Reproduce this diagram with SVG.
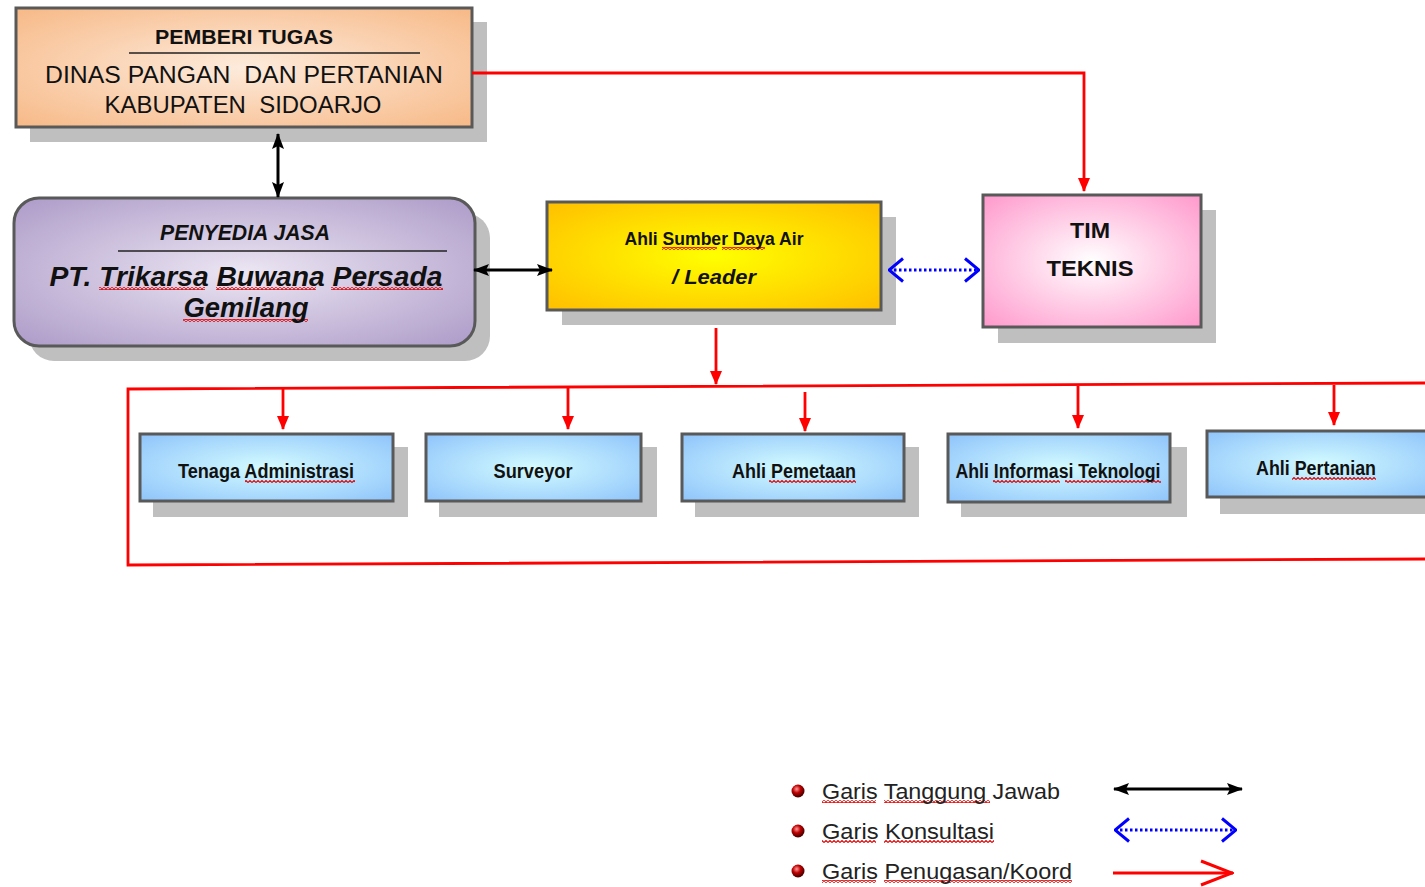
<svg xmlns="http://www.w3.org/2000/svg" width="1425" height="887" viewBox="0 0 1425 887">
<defs>
<style>
.sh{fill:#bfbfbf}
.bx{stroke:#595959;stroke-width:3}
.t{font-family:"Liberation Sans",Arial,sans-serif;fill:#111;text-anchor:middle}
.b{font-weight:bold}
.i{font-style:italic}
.red{stroke:#ff0000;stroke-width:2.8;fill:none}
.blk{stroke:#000;stroke-width:3;fill:none}
.blu{stroke:#0000ff;stroke-width:3;fill:none;stroke-dasharray:2.5 2.5}
.wv{fill:url(#wavy)}
.lg{font-family:"Liberation Sans",Arial,sans-serif;font-size:22px;fill:#222}
</style>
<pattern id="wavy" width="4" height="3" patternUnits="userSpaceOnUse"><path d="M0,2.5 L2,0.5 L4,2.5" fill="none" stroke="#e00000" stroke-width="1.1"/></pattern>
<radialGradient id="gPeach" cx="50%" cy="50%" r="70%"><stop offset="0" stop-color="#fdebdc"/><stop offset="1" stop-color="#f7b987"/></radialGradient>
<radialGradient id="gPurp" cx="50%" cy="50%" r="70%"><stop offset="0" stop-color="#ece6f3"/><stop offset="1" stop-color="#ad9bc8"/></radialGradient>
<radialGradient id="gYel" cx="50%" cy="50%" r="70%"><stop offset="0" stop-color="#ffff00"/><stop offset="1" stop-color="#ffbf00"/></radialGradient>
<radialGradient id="gPink" cx="50%" cy="50%" r="70%"><stop offset="0" stop-color="#ffffff"/><stop offset="1" stop-color="#ff99cc"/></radialGradient>
<radialGradient id="gBlue" cx="50%" cy="50%" r="70%"><stop offset="0" stop-color="#d3fbff"/><stop offset="1" stop-color="#8fc4fb"/></radialGradient>
<radialGradient id="gBall" cx="40%" cy="35%" r="60%"><stop offset="0" stop-color="#ff9a9a"/><stop offset="0.5" stop-color="#c00000"/><stop offset="1" stop-color="#500000"/></radialGradient>
<marker id="rT" viewBox="0 0 14 14" refX="13" refY="7" markerWidth="14" markerHeight="14" markerUnits="userSpaceOnUse" orient="auto"><path d="M0,1 L14,7 L0,13 z" fill="#ff0000"/></marker>
<marker id="kT" viewBox="0 0 16 14" refX="15" refY="7" markerWidth="16" markerHeight="14" markerUnits="userSpaceOnUse" orient="auto-start-reverse"><path d="M0,1 L16,7 L0,13 L3,7 z" fill="#000"/></marker>
<marker id="bC" viewBox="0 0 16 26" refX="15" refY="13" markerWidth="16" markerHeight="26" markerUnits="userSpaceOnUse" orient="auto-start-reverse"><path d="M1,1.5 L15,13 L1,24.5" fill="none" stroke="#0000ff" stroke-width="3"/></marker>
<marker id="rC" viewBox="0 0 34 28" refX="33" refY="14" markerWidth="34" markerHeight="28" markerUnits="userSpaceOnUse" orient="auto"><path d="M1,2 L32,14 L1,26" fill="none" stroke="#ff0000" stroke-width="3"/></marker>
</defs>
<rect width="1425" height="887" fill="#fff"/>

<g id="pemberi-tugas">
<rect class="sh" x="30" y="22" width="457" height="120"/>
<rect class="bx" x="16" y="8" width="456" height="119" fill="url(#gPeach)"/>
<text class="t b" x="244" y="44" font-size="21" textLength="178" lengthAdjust="spacingAndGlyphs">PEMBERI TUGAS</text>
<line x1="129" y1="53" x2="420" y2="53" stroke="#222" stroke-width="1.5"/>
<text class="t" x="244" y="83" font-size="23" textLength="398" lengthAdjust="spacingAndGlyphs" xml:space="preserve">DINAS PANGAN  DAN PERTANIAN</text>
<text class="t" x="243" y="113" font-size="23" textLength="277" lengthAdjust="spacingAndGlyphs" xml:space="preserve">KABUPATEN  SIDOARJO</text>
</g>

<g id="penyedia-jasa">
<rect class="sh" x="29" y="213" width="461" height="148" rx="25"/>
<rect class="bx" x="14" y="198" width="461" height="148" rx="25" fill="url(#gPurp)"/>
<text class="t b i" x="245" y="240" font-size="22" textLength="170" lengthAdjust="spacingAndGlyphs">PENYEDIA JASA</text>
<line x1="118" y1="251" x2="447" y2="251" stroke="#222" stroke-width="1.5"/>
<rect class="wv" x="99" y="287" width="106" height="3"/>
<rect class="wv" x="216" y="287" width="100" height="3"/>
<rect class="wv" x="331" y="287" width="112" height="3"/>
<rect class="wv" x="183" y="319" width="125" height="3"/>
<text class="t b i" x="246" y="286" font-size="27" textLength="393" lengthAdjust="spacingAndGlyphs">PT. Trikarsa Buwana Persada</text>
<text class="t b i" x="246" y="317" font-size="27" textLength="125" lengthAdjust="spacingAndGlyphs">Gemilang</text>
</g>

<g id="ahli-sda">
<rect class="sh" x="562" y="217" width="334" height="108"/>
<rect class="bx" x="547" y="202" width="334" height="108" fill="url(#gYel)"/>
<rect class="wv" x="662" y="247" width="55" height="3"/>
<rect class="wv" x="722" y="247" width="43" height="3"/>
<text class="t b" x="714" y="245" font-size="18" textLength="179" lengthAdjust="spacingAndGlyphs">Ahli Sumber Daya Air</text>
<text class="t b i" x="714" y="284" font-size="20" textLength="84" lengthAdjust="spacingAndGlyphs">/ Leader</text>
</g>

<g id="tim-teknis">
<rect class="sh" x="998" y="210" width="218" height="133"/>
<rect class="bx" x="983" y="195" width="218" height="132" fill="url(#gPink)"/>
<text class="t b" x="1090" y="238" font-size="22" textLength="40" lengthAdjust="spacingAndGlyphs">TIM</text>
<text class="t b" x="1090" y="276" font-size="22" textLength="87" lengthAdjust="spacingAndGlyphs">TEKNIS</text>
</g>

<g id="tenaga-administrasi">
<rect class="sh" x="153" y="447" width="255" height="70"/>
<rect class="bx" x="140" y="434" width="253" height="67" fill="url(#gBlue)"/>
<rect class="wv" x="245" y="480" width="110" height="3"/>
<text class="t b" x="266" y="478" font-size="20" textLength="176" lengthAdjust="spacingAndGlyphs">Tenaga Administrasi</text>
</g>

<g id="surveyor">
<rect class="sh" x="439" y="447" width="218" height="70"/>
<rect class="bx" x="426" y="434" width="215" height="67" fill="url(#gBlue)"/>
<text class="t b" x="533" y="478" font-size="20" textLength="79" lengthAdjust="spacingAndGlyphs">Surveyor</text>
</g>

<g id="ahli-pemetaan">
<rect class="sh" x="695" y="447" width="224" height="70"/>
<rect class="bx" x="682" y="434" width="222" height="67" fill="url(#gBlue)"/>
<rect class="wv" x="769" y="480" width="87" height="3"/>
<text class="t b" x="794" y="478" font-size="20" textLength="124" lengthAdjust="spacingAndGlyphs">Ahli Pemetaan</text>
</g>

<g id="ahli-informasi-teknologi">
<rect class="sh" x="961" y="447" width="226" height="70"/>
<rect class="bx" x="948" y="434" width="222" height="68" fill="url(#gBlue)"/>
<rect class="wv" x="993" y="480" width="67" height="3"/>
<rect class="wv" x="1065" y="480" width="96" height="3"/>
<text class="t b" x="1058" y="478" font-size="20" textLength="205" lengthAdjust="spacingAndGlyphs">Ahli Informasi Teknologi</text>
</g>

<g id="ahli-pertanian">
<rect class="sh" x="1220" y="444" width="210" height="70"/>
<rect class="bx" x="1207" y="431" width="225" height="66" fill="url(#gBlue)"/>
<rect class="wv" x="1292" y="477" width="84" height="3"/>
<text class="t b" x="1316" y="475" font-size="20" textLength="120" lengthAdjust="spacingAndGlyphs">Ahli Pertanian</text>
</g>

<g id="connectors">
<line class="blk" x1="278" y1="134" x2="278" y2="197" marker-start="url(#kT)" marker-end="url(#kT)"/>
<line class="blk" x1="474" y1="270" x2="552" y2="270" marker-start="url(#kT)" marker-end="url(#kT)"/>
<line class="blu" x1="889" y1="270" x2="979" y2="270" marker-start="url(#bC)" marker-end="url(#bC)"/>
<polyline class="red" points="472,73 1084,73 1084,191" marker-end="url(#rT)"/>
<line class="red" x1="716" y1="328" x2="716" y2="384" marker-end="url(#rT)"/>
<polyline class="red" points="1425,383 128,389 128,565 1425,559"/>
<line class="red" x1="283" y1="389" x2="283" y2="429" marker-end="url(#rT)"/>
<line class="red" x1="568" y1="388" x2="568" y2="429" marker-end="url(#rT)"/>
<line class="red" x1="805" y1="392" x2="805" y2="431" marker-end="url(#rT)"/>
<line class="red" x1="1078" y1="386" x2="1078" y2="428" marker-end="url(#rT)"/>
<line class="red" x1="1334" y1="385" x2="1334" y2="425" marker-end="url(#rT)"/>
</g>

<g id="legend">
<circle cx="798" cy="791" r="6.5" fill="url(#gBall)"/>
<circle cx="798" cy="831" r="6.5" fill="url(#gBall)"/>
<circle cx="798" cy="871" r="6.5" fill="url(#gBall)"/>
<rect class="wv" x="822" y="800" width="54" height="3"/>
<rect class="wv" x="884" y="800" width="106" height="3"/>
<rect class="wv" x="822" y="840" width="54" height="3"/>
<rect class="wv" x="884" y="840" width="110" height="3"/>
<rect class="wv" x="822" y="880" width="54" height="3"/>
<rect class="wv" x="884" y="880" width="188" height="3"/>
<text class="lg" x="822" y="799" textLength="238" lengthAdjust="spacingAndGlyphs">Garis Tanggung Jawab</text>
<text class="lg" x="822" y="839" textLength="172" lengthAdjust="spacingAndGlyphs">Garis Konsultasi</text>
<text class="lg" x="822" y="879" textLength="250" lengthAdjust="spacingAndGlyphs">Garis Penugasan/Koord</text>
<line class="blk" x1="1114" y1="789" x2="1242" y2="789" marker-start="url(#kT)" marker-end="url(#kT)"/>
<line class="blu" x1="1115" y1="830" x2="1236" y2="830" marker-start="url(#bC)" marker-end="url(#bC)"/>
<line class="red" x1="1113" y1="873" x2="1233" y2="873" stroke-width="3" marker-end="url(#rC)"/>
</g>
</svg>
